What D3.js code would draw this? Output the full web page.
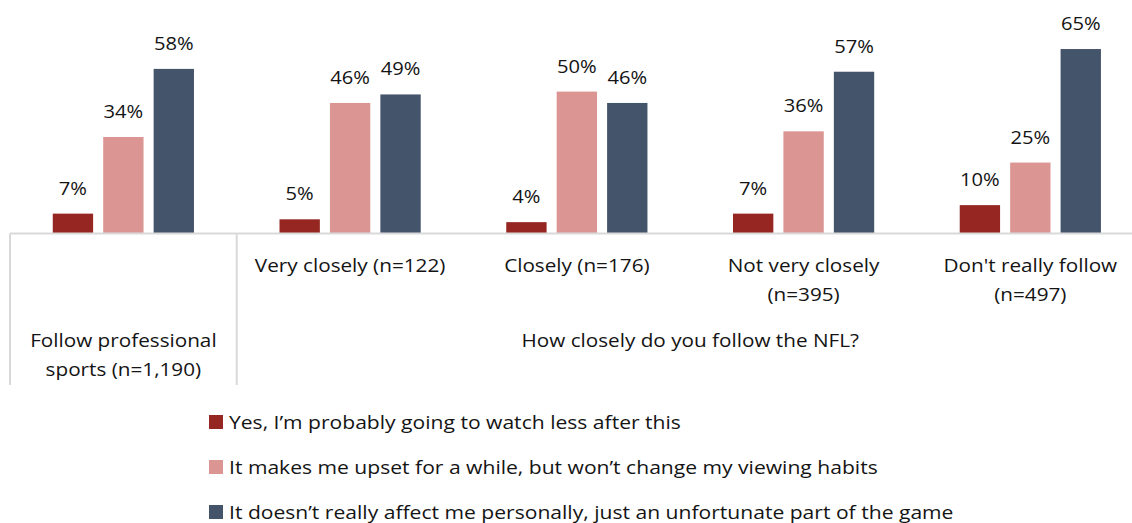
<!DOCTYPE html>
<html>
<head>
<meta charset="utf-8">
<script src="https://cdn.jsdelivr.net/npm/d3@7"></script>
<style>
  html, body { margin: 0; padding: 0; background: #fff; }
  svg { display: block; }
  text { font-family: "Open Sans", "Noto Sans", sans-serif; fill: #141414; }
</style>
</head>
<body>
<svg id="chart" width="1132" height="523"></svg>
<script>
// Survey groups (x axis) and their label lines
const groups = ["all", "very", "closely", "notVery", "dontFollow"];
const groupLabels = [
  ["Follow professional", "sports (n=1,190)"],
  ["Very closely (n=122)"],
  ["Closely (n=176)"],
  ["Not very closely", "(n=395)"],
  ["Don't really follow", "(n=497)"]
];
const groupHeader = "How closely do you follow the NFL?";

// Response series, percent of respondents per group
const seriesKeys = ["less", "upset", "noEffect"];
const seriesNames = [
  "Yes, I\u2019m probably going to watch less after this",
  "It makes me upset for a while, but won\u2019t change my viewing habits",
  "It doesn\u2019t really affect me personally, just an unfortunate part of the game"
];
const watchLess = [7, 5, 4, 7, 10];
const upsetOnly = [34, 46, 50, 36, 25];
const noEffect = [58, 49, 46, 57, 65];
const seriesColors = ["#952621", "#DB9694", "#44546A"];

const seriesValues = [watchLess, upsetOnly, noEffect];

const svg = d3.select("#chart");

const baseY = 233.5;
const x0 = d3.scaleBand().domain(groups).range([10, 1143.7]).padding(0);
const x1 = d3.scaleBand().domain(seriesKeys).range([-70.6, 70.6])
  .paddingInner(0.2).paddingOuter(0);
const y = d3.scaleLinear().domain([0, 100]).range([baseY, baseY - 283.8]);
const color = d3.scaleOrdinal().domain(seriesKeys).range(seriesColors);

const rows = [];
groups.forEach((g, gi) => {
  seriesKeys.forEach((k, si) => {
    rows.push({ group: g, key: k, value: seriesValues[si][gi] });
  });
});

const center = g => x0(g) + x0.bandwidth() / 2;

// Text is drawn slightly widened to get the broad label proportions
const WIDEN = 1.12;
function placeText(sel, xv, yv, sx) {
  return sel.attr("transform", `translate(${xv},${yv}) scale(${sx},1)`);
}

// Bars
svg.append("g").selectAll("rect")
  .data(rows)
  .join("rect")
  .attr("x", d => center(d.group) + x1(d.key))
  .attr("y", d => y(d.value))
  .attr("width", x1.bandwidth())
  .attr("height", d => y(0) - y(d.value))
  .attr("fill", d => color(d.key));

// Value labels
svg.append("g").selectAll("text")
  .data(rows)
  .join("text")
  .attr("text-anchor", "middle")
  .attr("font-size", 18)
  .each(function (d) {
    placeText(d3.select(this),
      center(d.group) + x1(d.key) + x1.bandwidth() / 2,
      y(d.value) - 19, WIDEN);
  })
  .text(d => d.value + "%");

// Category axis: baseline and group dividers
const axis = svg.append("g").attr("stroke", "#D9D9D9").attr("stroke-width", 2);
axis.append("line")
  .attr("x1", x0.range()[0]).attr("x2", x0.range()[1])
  .attr("y1", y(0)).attr("y2", y(0));
[x0(groups[0]), x0(groups[1]), x0.range()[1]].forEach(xv => {
  axis.append("line")
    .attr("x1", xv).attr("x2", xv)
    .attr("y1", y(0)).attr("y2", 385);
});

// Group labels
const labelG = svg.append("g").attr("font-size", 18.5).attr("text-anchor", "middle");
groups.forEach((g, gi) => {
  const lines = groupLabels[gi];
  const top = gi === 0 ? 347 : 272;
  lines.forEach((ln, li) => {
    placeText(labelG.append("text"), center(g), top + li * 29, WIDEN).text(ln);
  });
});
placeText(labelG.append("text"),
  (x0(groups[1]) + x0.range()[1]) / 2, 347, WIDEN).text(groupHeader);

// Legend
const legend = svg.append("g").attr("transform", "translate(209,0)");
seriesKeys.forEach((k, i) => {
  const cy = 422 + i * 45;
  legend.append("rect")
    .attr("x", 0).attr("y", cy - 7)
    .attr("width", 14).attr("height", 14)
    .attr("fill", color(k));
  placeText(legend.append("text"), 20, cy + 6.5, 1.11)
    .attr("font-size", 19)
    .text(seriesNames[i]);
});
</script>
</body>
</html>
